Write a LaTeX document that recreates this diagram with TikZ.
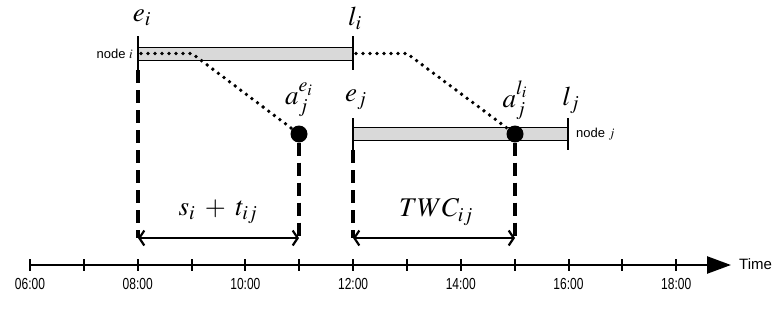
\documentclass[tikz,border=0pt]{standalone}
\usepackage{mathptmx}
\usepackage{fontspec}
\setsansfont{Liberation Sans}
\newfontfamily\narrowsans[FakeStretch=0.75]{Liberation Sans}
\usetikzlibrary{arrows.meta}

\begin{document}
\begin{tikzpicture}[x=1pt,y=-1pt]
\tikzset{
  windowbar/.style={draw=black,line width=0.8pt,fill=black!15,minimum height=13pt,minimum width=215pt,inner sep=0pt},
  bound/.style={draw=black,line width=2.6pt},
  dropline/.style={draw=black,line width=3.2pt,dash pattern=on 13pt off 7pt},
  travel/.style={draw=black,line width=3.8pt,line cap=round,dash pattern=on 0pt off 7pt},
  arrival/.style={circle,fill=black,minimum size=17pt,inner sep=0pt},
  gapspan/.style={draw=black,line width=2.2pt,{Straight Barb[length=5pt,width=15pt]}-{Straight Barb[length=5pt,width=15pt]}},
  timeaxis/.style={draw=black,line width=2.5pt,-{Triangle[length=24pt,width=17pt]}},
  hourtick/.style={draw=black,line width=2pt},
  hourlabel/.style={font=\narrowsans\fontsize{16}{16}\selectfont,inner sep=0pt},
  mathlabel/.style={font=\fontsize{27}{27}\selectfont,inner sep=0pt},
  nodename/.style={font=\sffamily\fontsize{13}{13}\selectfont,inner sep=0pt}
}
\useasboundingbox (0,0) rectangle (777,327);
% time windows
\node[windowbar] (n_wi) at (245.5,53.5) {};
\node[windowbar] (n_wj) at (460.5,134) {};
\node[nodename,anchor=east] (n_ni) at (133,53.5) {node $i$};
\node[nodename,anchor=west] (n_nj) at (576,134) {node $j$};
\coordinate (c_ei_top) at (138,36);
\coordinate (c_ei_bot) at (138,70);
\coordinate (c_li_top) at (353,36);
\coordinate (c_li_bot) at (353,70);
\coordinate (c_ej_top) at (353,118);
\coordinate (c_ej_bot) at (353,150);
\coordinate (c_lj_top) at (568,118);
\coordinate (c_lj_bot) at (568,150);
\draw[bound] (c_ei_top) -- (c_ei_bot);
\draw[bound] (c_li_top) -- (c_li_bot);
\draw[bound] (c_ej_top) -- (c_ej_bot);
\draw[bound] (c_lj_top) -- (c_lj_bot);
\node[mathlabel] (n_ei) at (142,18) {$e_i$};
\node[mathlabel] (n_li) at (355,18) {$l_i$};
\node[mathlabel] (n_ej) at (356,100) {$e_j$};
\node[mathlabel] (n_lj) at (571,100) {$l_j$};
% arrivals
\node[arrival] (n_aei) at (299,134) {};
\node[arrival] (n_ali) at (515,134) {};
\node[mathlabel] (n_taei) at (299,100) {$a_j^{e_i}$};
\node[mathlabel] (n_tali) at (515,100) {$a_j^{l_i}$};
\coordinate (c_si) at (141,53.5);
\coordinate (c_ki) at (192,53.5);
\coordinate (c_sl) at (356,53.5);
\coordinate (c_kl) at (407,53.5);
\draw[travel] (c_si) -- (c_ki) -- (n_aei);
\draw[travel] (c_sl) -- (c_kl) -- (n_ali);
% drop lines and spans
\coordinate (c_d1) at (138,238);
\coordinate (c_d2) at (299,238);
\coordinate (c_d3) at (353,238);
\coordinate (c_d4) at (515,238);
\draw[dropline] (c_ei_bot) -- (c_d1);
\draw[dropline] (n_aei.south) -- (c_d2);
\draw[dropline] (c_ej_bot) -- (c_d3);
\draw[dropline] (n_ali.south) -- (c_d4);
\draw[gapspan] (c_d1) -- (c_d2);
\draw[gapspan] (c_d3) -- (c_d4);
\node[mathlabel] (n_st) at (218,212) {$s_i\;+\;t_{ij}$};
\node[mathlabel] (n_twc) at (436,212) {$TWC_{ij}$};
% time axis
\coordinate (c_t0) at (30,265);
\coordinate (c_t1) at (731,265);
\draw[timeaxis] (c_t0) -- (c_t1);
\node[nodename,anchor=west,font=\sffamily\fontsize{15}{15}\selectfont] (n_time) at (739,264) {Time};
\draw[hourtick] (30,259) -- (30,271);
\draw[hourtick] (83.85,259) -- (83.85,271);
\draw[hourtick] (137.7,259) -- (137.7,271);
\draw[hourtick] (191.55,259) -- (191.55,271);
\draw[hourtick] (245.4,259) -- (245.4,271);
\draw[hourtick] (299.25,259) -- (299.25,271);
\draw[hourtick] (353.1,259) -- (353.1,271);
\draw[hourtick] (406.95,259) -- (406.95,271);
\draw[hourtick] (460.8,259) -- (460.8,271);
\draw[hourtick] (514.65,259) -- (514.65,271);
\draw[hourtick] (568.5,259) -- (568.5,271);
\draw[hourtick] (622.35,259) -- (622.35,271);
\draw[hourtick] (676.2,259) -- (676.2,271);
\node[hourlabel] (n_h06) at (30,284) {06:00};
\node[hourlabel] (n_h08) at (137.7,284) {08:00};
\node[hourlabel] (n_h10) at (245.4,284) {10:00};
\node[hourlabel] (n_h12) at (353.1,284) {12:00};
\node[hourlabel] (n_h14) at (460.8,284) {14:00};
\node[hourlabel] (n_h16) at (568.5,284) {16:00};
\node[hourlabel] (n_h18) at (676.2,284) {18:00};
\end{tikzpicture}
\end{document}
